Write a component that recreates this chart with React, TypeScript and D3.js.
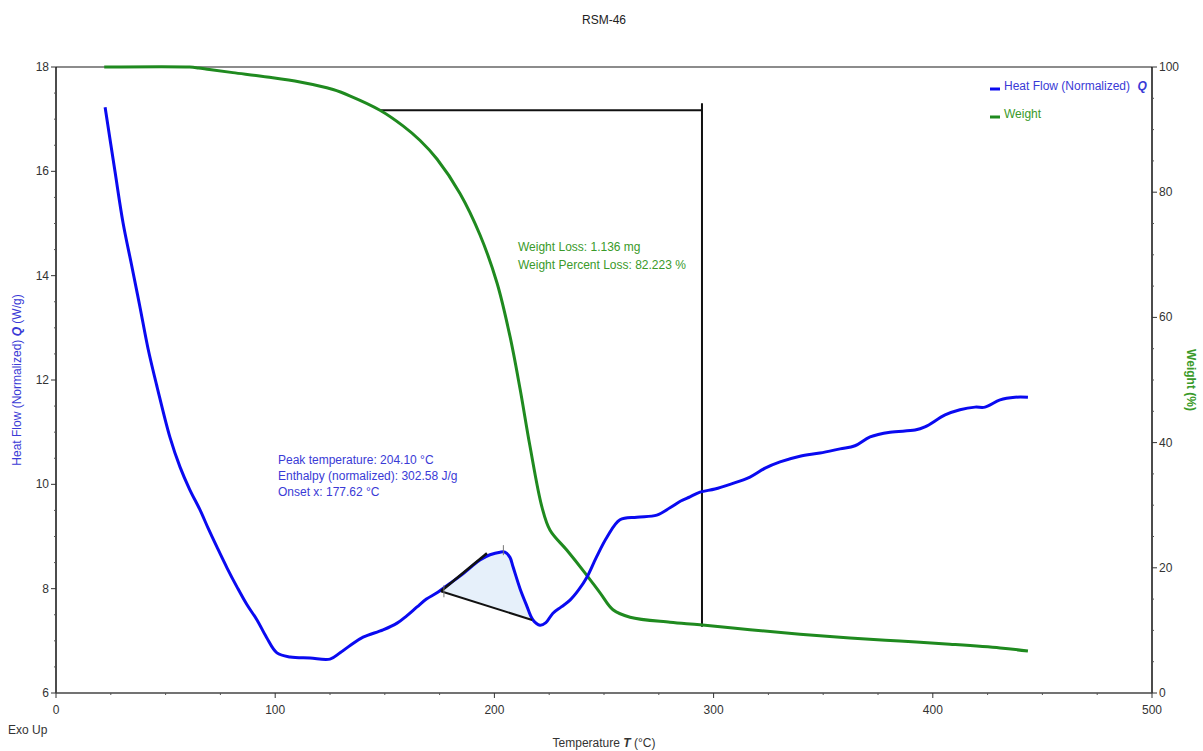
import React from "react";
import * as d3 from "d3";

const heatT = [22.4, 26.9, 30.6, 34.5, 38.3, 42, 46.1, 52, 56.6, 61, 65.7, 69.5, 73.4, 78, 82.6, 87, 91.7, 96, 100.8, 106.8, 115.9, 125, 129.6, 134.5, 140.1, 149.2, 155.6, 160, 164.7, 169, 173.8, 179.7, 184.3, 188.9, 193.4, 198, 202.6, 204.8, 207.1, 208.5, 211.7, 214.5, 217.6, 220.8, 223.5, 226.7, 230.5, 234.5, 238.5, 242.2, 246.5, 251.4, 257.3, 265, 274.1, 280.1, 285, 289.2, 293.8, 300.6, 307.5, 316.6, 323.5, 330.3, 339.4, 348.5, 357.7, 364.5, 371.4, 380.5, 391.9, 396.4, 405.6, 412.4, 419.3, 423.8, 430.7, 437.5, 443.4];
const heatQ = [17.23, 16.0, 15.01, 14.2, 13.4, 12.6, 11.87, 10.9, 10.33, 9.9, 9.51, 9.15, 8.8, 8.4, 8.03, 7.7, 7.4, 7.07, 6.77, 6.69, 6.67, 6.65, 6.77, 6.92, 7.07, 7.21, 7.34, 7.48, 7.65, 7.8, 7.92, 8.1, 8.24, 8.4, 8.55, 8.65, 8.7, 8.7, 8.6, 8.42, 8.0, 7.7, 7.4, 7.3, 7.35, 7.53, 7.65, 7.78, 7.98, 8.22, 8.6, 8.99, 9.32, 9.37, 9.41, 9.55, 9.68, 9.76, 9.85, 9.91, 10.0, 10.14, 10.31, 10.43, 10.54, 10.6, 10.68, 10.74, 10.91, 11.0, 11.04, 11.1, 11.33, 11.43, 11.48, 11.48, 11.62, 11.67, 11.67];

const weightT = [22, 61, 65, 70, 80.7, 96.3, 111.3, 126.4, 134, 147.8, 158.3, 166, 173.8, 184.3, 193.4, 201.2, 207.1, 211.7, 216.2, 221.7, 225.4, 233.1, 241.3, 248.2, 254.1, 261.9, 280.1, 293.8, 316.6, 339.4, 362.2, 385, 407.8, 430.7, 443.4];
const weightW = [100, 100, 99.85, 99.6, 99.1, 98.4, 97.6, 96.4, 95.4, 93.1, 90.6, 88.3, 85.3, 79.8, 73.2, 65.5, 57.0, 48.6, 39.5, 29.7, 26.0, 22.8, 19.2, 16.0, 13.3, 12.1, 11.3, 10.9, 10.1, 9.4, 8.8, 8.3, 7.8, 7.2, 6.7];

const xTicks = [0, 100, 200, 300, 400, 500];
const leftTicks = [6, 8, 10, 12, 14, 16, 18];
const rightTicks = [0, 20, 40, 60, 80, 100];

// annotation values
const onset = { T: 175.6, Q: 7.95 };
const tangentEnd = { T: 196.6, Q: 8.68 };
const baselineEnd = { T: 217.2, Q: 7.4 };
const peak = { T: 204.1, Q: 8.7 };
const wlStart = { T: 147.8, W: 93.1 };
const wlEnd = { T: 294.7, Wtop: 94.2, Wbottom: 10.6 };

const peakLines = ["Peak temperature: 204.10 °C", "Enthalpy (normalized): 302.58 J/g", "Onset x: 177.62 °C"];
const weightLines = ["Weight Loss: 1.136 mg", "Weight Percent Loss: 82.223 %"];

const W = 1203, H = 751;
const L = 56, R = 1152, T0 = 67, B = 693;
const font = "'Liberation Sans', Arial, sans-serif";
const BLUE = "#0a0af0";
const GREEN = "#1f8a1f";
const BLUE_TXT = "#3a3ad6";
const GREEN_TXT = "#3a9a2a";

export default function App() {
  const x = d3.scaleLinear().domain([0, 500]).range([L, R]);
  const yL = d3.scaleLinear().domain([6, 18]).range([B, T0]);
  const yR = d3.scaleLinear().domain([0, 100]).range([B, T0]);

  const heat = heatT.map((t, i) => [t, heatQ[i]] as [number, number]);
  const weight = weightT.map((t, i) => [t, weightW[i]] as [number, number]);

  const curve = d3.curveCatmullRom.alpha(0.5);
  const heatLine = d3.line<[number, number]>().x(d => x(d[0])).y(d => yL(d[1])).curve(curve);
  const weightLine = d3.line<[number, number]>().x(d => x(d[0])).y(d => yR(d[1])).curve(curve);

  // fill polygon between curve and baseline
  const inside = heat.filter(d => d[0] > onset.T && d[0] < baselineEnd.T);
  const fillPts: [number, number][] = [[onset.T, onset.Q], ...inside, [baselineEnd.T, baselineEnd.Q]];
  const fillPath = d3.line<[number, number]>().x(d => x(d[0])).y(d => yL(d[1])).curve(curve)(fillPts) + "Z";

  const xMinor = d3.range(0, 501, 25).filter(v => v % 100 !== 0);
  const lMinor = d3.range(6, 18.01, 0.5).filter(v => Math.abs(v % 2) > 0.01);
  const rMinor = d3.range(0, 100.1, 5).filter(v => v % 20 !== 0);

  return (
    <svg width={W} height={H} style={{ position: "absolute", left: 0, top: 0, background: "#fff" }} fontFamily={font}>
      <rect width={W} height={H} fill="#fff" />
      <text x={604} y={24} textAnchor="middle" fontSize={12} fill="#222">RSM-46</text>

      {/* fill */}
      <path d={fillPath} fill="#e6f0fa" stroke="none" />

      {/* frame */}
      <line x1={L} x2={R} y1={T0} y2={T0} stroke="#666" strokeWidth={1.5} />
      <line x1={L} x2={L} y1={T0} y2={B} stroke="#111" strokeWidth={1.5} />
      <line x1={R} x2={R} y1={T0} y2={B} stroke="#111" strokeWidth={1.5} />
      <line x1={L} x2={R} y1={B} y2={B} stroke="#444" strokeWidth={1.5} />

      {/* x ticks */}
      {xTicks.map(v => (
        <g key={"x" + v}>
          <line x1={x(v)} x2={x(v)} y1={B} y2={B + 5} stroke="#333" />
          <text x={x(v)} y={B + 21} textAnchor="middle" fontSize={12} fill="#333">{v}</text>
        </g>
      ))}
      {xMinor.map(v => <line key={"xm" + v} x1={x(v)} x2={x(v)} y1={B} y2={B + 2} stroke="#555" />)}

      {/* left ticks */}
      {leftTicks.map(v => (
        <g key={"l" + v}>
          <line x1={L - 5} x2={L} y1={yL(v)} y2={yL(v)} stroke="#333" />
          <text x={L - 7} y={yL(v) + 4} textAnchor="end" fontSize={12} fill="#333">{v}</text>
        </g>
      ))}
      {lMinor.map(v => <line key={"lm" + v} x1={L - 2} x2={L} y1={yL(v)} y2={yL(v)} stroke="#555" />)}

      {/* right ticks */}
      {rightTicks.map(v => (
        <g key={"r" + v}>
          <line x1={R} x2={R + 5} y1={yR(v)} y2={yR(v)} stroke="#333" />
          <text x={R + 7} y={yR(v) + 4} textAnchor="start" fontSize={12} fill="#333">{v}</text>
        </g>
      ))}
      {rMinor.map(v => <line key={"rm" + v} x1={R} x2={R + 2} y1={yR(v)} y2={yR(v)} stroke="#555" />)}

      {/* axis labels */}
      <text x={8} y={734} fontSize={12} fill="#333">Exo Up</text>
      <text x={604} y={747} textAnchor="middle" fontSize={12} fill="#333">
        Temperature <tspan fontWeight="bold" fontStyle="italic">T</tspan> (°C)
      </text>
      <text transform={`translate(21,${(T0 + B) / 2}) rotate(-90)`} textAnchor="middle" fontSize={12} fill={BLUE_TXT}>
        Heat Flow (Normalized) <tspan fontWeight="bold" fontStyle="italic">Q</tspan> (W/g)
      </text>
      <text transform={`translate(1187,${(T0 + B) / 2}) rotate(90)`} textAnchor="middle" fontSize={12} fill={GREEN_TXT} fontWeight="bold">
        Weight  (%)
      </text>

      {/* weight loss lines */}
      <line x1={x(wlStart.T)} x2={x(wlEnd.T)} y1={yR(wlStart.W)} y2={yR(wlStart.W)} stroke="#111" strokeWidth={2} />
      <line x1={x(wlEnd.T)} x2={x(wlEnd.T)} y1={yR(wlEnd.Wtop)} y2={yR(wlEnd.Wbottom)} stroke="#111" strokeWidth={2} />

      {/* curves */}
      <path d={weightLine(weight) || ""} fill="none" stroke={GREEN} strokeWidth={3} />
      <path d={heatLine(heat) || ""} fill="none" stroke={BLUE} strokeWidth={3} />

      {/* peak annotation lines */}
      <line x1={x(onset.T)} x2={x(tangentEnd.T)} y1={yL(onset.Q)} y2={yL(tangentEnd.Q)} stroke="#111" strokeWidth={2.5} />
      <line x1={x(onset.T)} x2={x(baselineEnd.T)} y1={yL(onset.Q)} y2={yL(baselineEnd.Q)} stroke="#111" strokeWidth={2} />
      <line x1={x(onset.T) + 3} x2={x(onset.T) + 3} y1={yL(onset.Q) - 6} y2={yL(onset.Q) + 6} stroke="#777" strokeWidth={1} />
      <line x1={x(peak.T)} x2={x(peak.T)} y1={yL(peak.Q) - 7} y2={yL(peak.Q) + 3} stroke="#777" strokeWidth={1} />

      {/* annotations */}
      {peakLines.map((s, i) => (
        <text key={s} x={278} y={464 + i * 16} fontSize={12} fill={BLUE_TXT}>{s}</text>
      ))}
      {weightLines.map((s, i) => (
        <text key={s} x={518} y={251 + i * 18} fontSize={12} fill={GREEN_TXT}>{s}</text>
      ))}

      {/* legend */}
      <line x1={990} x2={1000} y1={89} y2={89} stroke={BLUE} strokeWidth={3} />
      <text x={1004} y={90} fontSize={12} fill={BLUE_TXT}>
        Heat Flow (Normalized) <tspan dx={4} fontWeight="bold" fontStyle="italic">Q</tspan>
      </text>
      <line x1={990} x2={1000} y1={117} y2={117} stroke={GREEN} strokeWidth={3} />
      <text x={1004} y={118} fontSize={12} fill={GREEN_TXT}>Weight</text>
    </svg>
  );
}
